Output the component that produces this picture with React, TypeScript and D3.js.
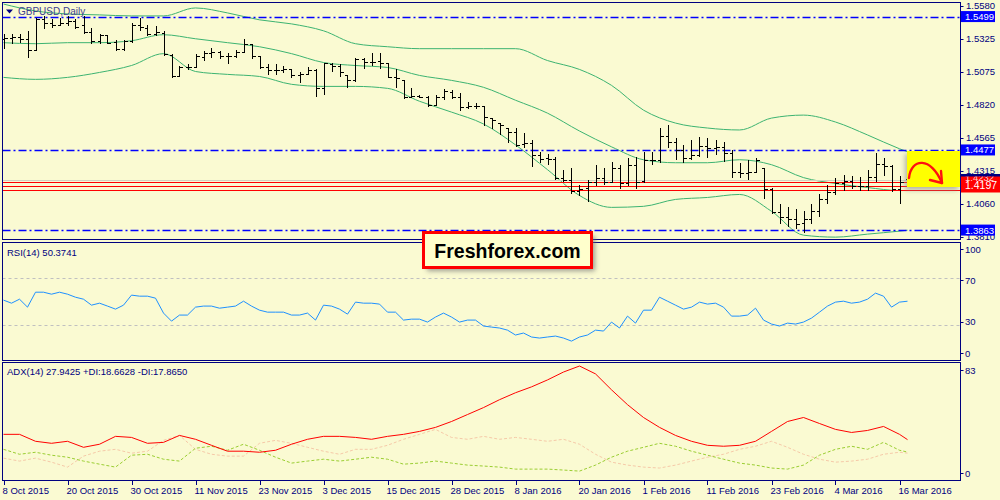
import React, { useEffect } from "react";
import * as d3 from "d3";

// daily GBPUSD bars, 8 Oct 2015 .. 17 Mar 2016
const opens = [
  1.5329, 1.5337, 1.5344, 1.5329, 1.5246, 1.5481, 1.5451, 1.5436, 1.5451, 1.5466,
  1.5436, 1.5382, 1.5314, 1.536, 1.5306, 1.5253, 1.5314, 1.5436, 1.5413, 1.5367,
  1.5375, 1.5208, 1.504, 1.5116, 1.5116, 1.5192, 1.5223, 1.523, 1.52, 1.52,
  1.523, 1.5291, 1.52, 1.5116, 1.5086, 1.5086, 1.5094, 1.5048, 1.5056, 1.5086,
  1.4949, 1.5139, 1.5124, 1.5048, 1.501, 1.5177, 1.5154, 1.5162, 1.5147, 1.5033,
  1.501, 1.4881, 1.4888, 1.4881, 1.482, 1.4881, 1.4919, 1.4881, 1.4805, 1.4812,
  1.4812, 1.4721, 1.4683, 1.4645, 1.4615, 1.4524, 1.4531, 1.444, 1.4417, 1.441,
  1.4265, 1.425, 1.4159, 1.4189, 1.4235, 1.4265, 1.4235, 1.4341, 1.4227, 1.4364,
  1.4242, 1.4402, 1.4402, 1.4584, 1.4539, 1.4478, 1.4417, 1.444, 1.4508, 1.4493,
  1.4501, 1.4455, 1.4311, 1.4303, 1.4311, 1.4341, 1.4174, 1.3999, 1.3961, 1.3946,
  1.3916, 1.3946, 1.4007, 1.4098, 1.4151, 1.4227, 1.4242, 1.4204, 1.4197, 1.4273,
  1.4372, 1.4356, 1.4174, 1.4258,
];
const highs = [
  1.5367, 1.5367, 1.5367, 1.539, 1.5489, 1.5504, 1.5481, 1.5489, 1.5504, 1.5481,
  1.5504, 1.5413, 1.5367, 1.536, 1.5322, 1.5322, 1.5451, 1.5489, 1.5436, 1.5428,
  1.539, 1.5215, 1.5124, 1.5139, 1.5215, 1.5238, 1.5261, 1.5238, 1.5223, 1.5246,
  1.5329, 1.5291, 1.52, 1.5139, 1.5132, 1.5124, 1.5101, 1.5071, 1.5109, 1.5101,
  1.5147, 1.5147, 1.5132, 1.5048, 1.5185, 1.5185, 1.5223, 1.5223, 1.5147, 1.5101,
  1.501, 1.4949, 1.4896, 1.4888, 1.4896, 1.4942, 1.4934, 1.4911, 1.4843, 1.4835,
  1.4812, 1.4721, 1.4683, 1.4645, 1.4645, 1.4607, 1.4554, 1.4463, 1.4448, 1.4425,
  1.4326, 1.4341, 1.4212, 1.425, 1.4364, 1.4341, 1.4387, 1.4364, 1.4417, 1.4425,
  1.4463, 1.4463, 1.4645, 1.4668, 1.4569, 1.4516, 1.4554, 1.4577, 1.4569, 1.4554,
  1.4539, 1.4478, 1.4379, 1.4402, 1.4417, 1.4341, 1.4189, 1.406, 1.4037, 1.4022,
  1.4007, 1.406, 1.4136, 1.4212, 1.4265, 1.4288, 1.428, 1.4273, 1.4326, 1.4455,
  1.4417, 1.4364, 1.428, 1.4273,
];
const lows = [
  1.5253, 1.5291, 1.5299, 1.5185, 1.5238, 1.5405, 1.5413, 1.5428, 1.5428, 1.5405,
  1.5367, 1.5291, 1.5291, 1.5291, 1.5238, 1.5238, 1.5299, 1.539, 1.5352, 1.5352,
  1.52, 1.5025, 1.5033, 1.5086, 1.5109, 1.5162, 1.5185, 1.5177, 1.5139, 1.5185,
  1.5223, 1.5177, 1.5101, 1.5048, 1.5048, 1.5063, 1.5025, 1.4987, 1.5048, 1.4881,
  1.4896, 1.5071, 1.5033, 1.4949, 1.4995, 1.5101, 1.5124, 1.5101, 1.5025, 1.4949,
  1.4866, 1.4881, 1.4873, 1.4805, 1.4812, 1.4858, 1.4866, 1.4774, 1.479, 1.479,
  1.466, 1.4638, 1.4592, 1.4531, 1.4501, 1.4493, 1.4349, 1.4379, 1.4364, 1.425,
  1.4235, 1.4136, 1.4121, 1.4075, 1.4197, 1.4212, 1.422, 1.4174, 1.4204, 1.4174,
  1.4227, 1.4364, 1.4379, 1.4493, 1.4402, 1.4379, 1.4402, 1.4425, 1.4417, 1.444,
  1.4387, 1.4265, 1.4265, 1.425, 1.4311, 1.4098, 1.3984, 1.3908, 1.3885, 1.387,
  1.384, 1.3908, 1.3961, 1.406, 1.4128, 1.4159, 1.4174, 1.4159, 1.4159, 1.4235,
  1.428, 1.4151, 1.406, 1.4242,
];
const closes = [
  1.5337, 1.5344, 1.5329, 1.5246, 1.5481, 1.5451, 1.5436, 1.5451, 1.5466, 1.542,
  1.5382, 1.5314, 1.536, 1.5299, 1.5253, 1.5314, 1.5436, 1.542, 1.5367, 1.5382,
  1.5215, 1.504, 1.5116, 1.5116, 1.52, 1.5223, 1.523, 1.52, 1.52, 1.523,
  1.5291, 1.52, 1.5116, 1.5086, 1.5086, 1.5094, 1.5048, 1.5056, 1.5086, 1.4949,
  1.5147, 1.5124, 1.5078, 1.501, 1.5177, 1.5154, 1.5154, 1.5147, 1.5033, 1.5025,
  1.4881, 1.4888, 1.4881, 1.482, 1.4881, 1.4926, 1.4881, 1.4805, 1.4812, 1.4812,
  1.4729, 1.4706, 1.4668, 1.4615, 1.4516, 1.4531, 1.444, 1.441, 1.441, 1.4265,
  1.425, 1.4159, 1.4174, 1.4235, 1.4265, 1.4235, 1.4341, 1.4227, 1.4364, 1.4235,
  1.4402, 1.4402, 1.4584, 1.4539, 1.4478, 1.4417, 1.444, 1.4508, 1.4493, 1.4501,
  1.4455, 1.4311, 1.4303, 1.4311, 1.4402, 1.4174, 1.3999, 1.3961, 1.3946, 1.3908,
  1.3946, 1.4007, 1.4098, 1.4151, 1.4227, 1.4242, 1.4204, 1.4197, 1.4273, 1.4372,
  1.4356, 1.4174, 1.4235, 1.425,
];

// Bollinger bands, sampled every 4 bars
const bbIdx = [0, 4, 8, 12, 16, 20, 24, 28, 32, 36, 40, 44, 48, 52, 56, 60, 64, 68, 72, 76, 80, 84, 88, 92, 96, 100, 104, 108, 112, 113];
const bbUpper = [
  1.5595, 1.5542, 1.5519, 1.5512, 1.5504, 1.5504, 1.5565, 1.5527, 1.5474, 1.5443,
  1.539, 1.5291, 1.5268, 1.5253, 1.5253, 1.5253, 1.5253, 1.5162, 1.5094, 1.4972,
  1.4782, 1.4683, 1.4645, 1.463, 1.4721, 1.4744, 1.4691, 1.4592, 1.4486, 1.4463,
];
const bbMiddle = [
  1.5299, 1.5291, 1.5299, 1.5299, 1.5314, 1.536, 1.5329, 1.5299, 1.5268, 1.5215,
  1.5147, 1.5124, 1.5109, 1.5048, 1.501, 1.4957, 1.4858, 1.4759, 1.4622, 1.4501,
  1.4402, 1.4379, 1.4379, 1.4402, 1.4364, 1.4265, 1.422, 1.4189, 1.4166, 1.4166,
];
const bbLower = [
  1.5033, 1.5018, 1.5033, 1.5071, 1.5124, 1.5215, 1.5078, 1.5056, 1.504, 1.498,
  1.4964, 1.4964, 1.4949, 1.485, 1.4767, 1.4676, 1.4516, 1.4326, 1.4128, 1.4037,
  1.4045, 1.4098, 1.4113, 1.4136, 1.4007, 1.3824, 1.3809, 1.3832, 1.3855, 1.3862,
];

const rsi = [
  51.3, 48.7, 52.1, 45.3, 58.1, 58.1, 56.4, 58.1, 56.4, 53.8,
  52.1, 47.0, 48.7, 46.2, 43.6, 47.0, 55.6, 54.7, 54.7, 53.0,
  40.2, 33.3, 38.5, 38.5, 45.3, 46.2, 46.2, 44.4, 45.3, 46.2,
  50.4, 46.2, 42.7, 41.0, 41.0, 41.0, 38.5, 38.5, 40.2, 34.2,
  47.0, 46.2, 43.6, 39.3, 49.6, 48.7, 48.7, 47.9, 41.0, 41.0,
  34.2, 35.0, 35.0, 32.5, 36.8, 40.2, 36.8, 32.5, 34.2, 34.2,
  29.1, 28.2, 27.4, 25.6, 21.4, 23.1, 19.7, 18.8, 19.7, 20.5,
  18.8, 16.2, 19.7, 21.4, 25.6, 24.8, 32.5, 27.4, 37.6, 31.6,
  42.7, 42.7, 53.8, 50.4, 47.0, 43.6, 45.3, 49.6, 47.9, 48.7,
  45.3, 37.6, 37.6, 38.5, 44.4, 34.2, 30.8, 29.1, 31.6, 30.8,
  32.5, 35.9, 41.0, 46.2, 49.6, 50.4, 48.7, 49.6, 52.1, 57.3,
  54.7, 45.3, 49.6, 50.37,
];

// ADX / +DI / -DI, sampled every 2 bars
const adxIdx = [
  0, 2, 4, 6, 8, 10, 12, 14, 16, 18, 20, 22, 24, 26, 28, 30, 32, 34, 36, 38,
  40, 42, 44, 46, 48, 50, 52, 54, 56, 58, 60, 62, 64, 66, 68, 70, 72, 74, 76, 78,
  80, 82, 84, 86, 88, 90, 92, 94, 96, 98, 100, 102, 104, 106, 108, 110, 112, 113,
];
const adx = [
  31.9, 31.9, 26.7, 25.2, 26.7, 22.2, 24.5, 30.4, 29.6, 25.2,
  25.9, 31.1, 28.2, 23.7, 19.3, 19.3, 18.5, 20.0, 24.5, 28.2,
  30.4, 30.4, 29.6, 28.2, 30.4, 31.9, 34.1, 37.1, 41.5, 46.7,
  51.9, 57.8, 63.0, 67.4, 72.6, 78.5, 83.0, 77.1, 65.2, 54.1,
  44.5, 37.1, 31.1, 26.7, 23.7, 23.0, 23.7, 26.7, 34.1, 41.5,
  44.5, 40.0, 35.6, 33.3, 34.8, 37.8, 31.9, 27.94,
];
const plusDi = [
  20.7, 17.0, 18.5, 16.3, 14.8, 11.9, 9.6, 7.4, 16.3, 17.0,
  13.3, 11.9, 21.5, 23.0, 20.0, 24.5, 20.0, 14.8, 10.4, 11.9,
  13.3, 11.9, 13.3, 14.8, 13.3, 9.6, 10.4, 11.9, 10.4, 8.9,
  8.2, 7.4, 5.9, 5.9, 5.9, 5.2, 4.4, 8.9, 14.8, 19.3,
  22.2, 25.2, 23.0, 19.3, 16.3, 13.3, 10.4, 8.9, 6.7, 5.9,
  8.9, 16.3, 20.7, 23.0, 20.7, 25.9, 20.0, 18.66,
];
const minusDi = [
  14.1, 11.9, 14.1, 11.1, 7.4, 15.6, 19.3, 20.7, 17.8, 19.3,
  27.4, 31.1, 20.7, 17.0, 15.6, 15.6, 25.2, 27.4, 25.2, 22.2,
  19.3, 17.0, 20.7, 20.7, 23.7, 28.2, 31.9, 35.6, 29.6, 28.2,
  30.4, 28.2, 29.6, 28.2, 26.7, 28.2, 24.5, 17.0, 11.1, 8.9,
  7.4, 6.7, 8.9, 11.9, 14.8, 17.0, 20.7, 23.0, 26.7, 22.2,
  17.0, 13.3, 11.1, 11.9, 13.3, 17.0, 18.5, 17.87,
];

const priceTicks = [1.558, 1.5325, 1.5075, 1.482, 1.4565, 1.4315, 1.406, 1.381];
const levelLines = [1.5499, 1.4477, 1.3863];
const redLines = [1.4232, 1.4197, 1.417];
const bidPrice = 1.425;
const rsiTicks = [100, 70, 30, 0];
const rsiLevels = [70, 30];
const adxTicks = [83, 0];
const dateTickIdx = [0, 8, 16, 24, 32, 40, 48, 56, 64, 72, 80, 88, 96, 104, 112];
const dateLabels = [
  "8 Oct 2015", "20 Oct 2015", "30 Oct 2015", "11 Nov 2015", "23 Nov 2015",
  "3 Dec 2015", "15 Dec 2015", "28 Dec 2015", "8 Jan 2016", "20 Jan 2016",
  "1 Feb 2016", "11 Feb 2016", "23 Feb 2016", "4 Mar 2016", "16 Mar 2016",
];

const BG = "#fafad2";
const NAVY = "#000080";
const FONT = "'Liberation Sans', Arial, sans-serif";

export default function App() {
  useEffect(() => {
    document.body.style.margin = "0";
  }, []);

  const L = 2.5;
  const R = 960.5;
  const main = { top: 2.5, bottom: 239.5 };
  const rsiP = { top: 242.5, bottom: 360.5 };
  const adxP = { top: 362.5, bottom: 480.5 };

  const x = d3.scaleLinear().domain([0, 113]).range([3.5, 907.5]);
  const yP = d3.scaleLinear().domain([1.381, 1.558]).range([237, 6]);
  const yR = d3.scaleLinear().domain([0, 100]).range([360, 243.3]);
  const yA = d3.scaleLinear().domain([0, 83]).range([477, 366]);
  const snap = (v: number) => Math.round(v) + 0.5;

  const band = (vals: number[]) =>
    d3.line<number>()
      .x((_, k) => x(bbIdx[k]))
      .y((v) => yP(v))
      .curve(d3.curveMonotoneX)(vals) || "";

  const rsiPath = d3.line<number>()
    .x((_, i) => x(i))
    .y((v) => yR(v))(rsi) || "";

  const adxLine = (vals: number[]) =>
    d3.line<number>()
      .x((_, k) => x(adxIdx[k]))
      .y((v) => yA(v))(vals) || "";

  const barsPath = opens
    .map((o, i) => {
      const xi = snap(x(i));
      return `M${xi},${yP(highs[i])}V${yP(lows[i])}M${xi - 3},${snap(yP(o))}H${xi}M${xi},${snap(yP(closes[i]))}H${xi + 3}`;
    })
    .join("");

  const clampR = d3.scaleLinear().domain([243, 360]).range([249, 353]).clamp(true);

  return (
    <svg width={1000} height={500} style={{ position: "absolute", left: 0, top: 0, display: "block" }} fontFamily={FONT}>
      <defs>
        <clipPath id="cMain"><rect x={L} y={main.top} width={R - L} height={main.bottom - main.top} /></clipPath>
        <clipPath id="cRsi"><rect x={L} y={rsiP.top} width={R - L} height={rsiP.bottom - rsiP.top} /></clipPath>
        <clipPath id="cAdx"><rect x={L} y={adxP.top} width={R - L} height={adxP.bottom - adxP.top} /></clipPath>
        <clipPath id="cRed"><rect x={961} y={176.5} width={39} height={16} /></clipPath>
        <filter id="blur" x="-20%" y="-20%" width="140%" height="160%">
          <feGaussianBlur stdDeviation="2.5" />
        </filter>
      </defs>
      <rect x={0} y={0} width={1000} height={500} fill={BG} />

      {/* main price panel */}
      <g clipPath="url(#cMain)">
        {[bbUpper, bbMiddle, bbLower].map((b, k) => (
          <path key={k} d={band(b)} fill="none" stroke="#3cb371" strokeWidth={1} />
        ))}
        <line x1={L} x2={R} y1={snap(yP(bidPrice))} y2={snap(yP(bidPrice))} stroke="#d0d0c0" strokeWidth={1} />
        {redLines.map((v) => (
          <line key={v} x1={L} x2={R} y1={snap(yP(v))} y2={snap(yP(v))} stroke="#ff0000" strokeWidth={1} />
        ))}
        {levelLines.map((v) => (
          <line key={v} x1={L} x2={R} y1={snap(yP(v))} y2={snap(yP(v))} stroke="#0000ff" strokeWidth={1.3} strokeDasharray="8,3,2,3" />
        ))}
        <path d={barsPath} stroke="#000" strokeWidth={1} fill="none" shapeRendering="crispEdges" />
      </g>
      <rect x={L} y={main.top} width={R - L} height={main.bottom - main.top} fill="none" stroke={NAVY} strokeWidth={1} />
      <path d="M6,9.5 L13,9.5 L9.5,13.5 Z" fill={NAVY} />
      <text x={18} y={15} fontSize={10} fill="#404090">GBPUSD,Daily</text>

      {/* yellow note with arrow */}
      <rect x={905} y={154} width={53} height={36} fill="#888" opacity={0.6} filter="url(#blur)" />
      <rect x={907} y={151} width={53} height={36} fill="#ffff00" />
      <path d="M909,178 C911,158 931,156 942,183" fill="none" stroke="#ff1010" strokeWidth={2.4} strokeLinecap="round" />
      <path d="M930,180 L942,183 L941,171" fill="none" stroke="#ff1010" strokeWidth={2.4} strokeLinecap="round" strokeLinejoin="round" />

      {/* price axis */}
      {priceTicks.map((v) => (
        <g key={v}>
          <line x1={R} x2={R + 3} y1={snap(yP(v))} y2={snap(yP(v))} stroke={NAVY} />
          <text x={966} y={yP(v) + 3} fontSize={9.5} fill={NAVY}>{v.toFixed(4)}</text>
        </g>
      ))}
      {levelLines.map((v) => (
        <g key={v}>
          <rect x={961} y={yP(v) - 5.5} width={34} height={11} fill="#0000ff" />
          <text x={965} y={yP(v) + 3.5} fontSize={9.5} fill="#fff">{v.toFixed(4)}</text>
        </g>
      ))}
      <rect x={961} y={174} width={39} height={3} fill={NAVY} />
      <rect x={961} y={176.5} width={39} height={16} fill="#ff0000" />
      <g clipPath="url(#cRed)" fontSize={9.5} fill="#ffd0d0">
        <text x={965} y={yP(redLines[0]) - 0.5}>{redLines[0].toFixed(4)}</text>
        <text x={965} y={yP(redLines[2]) + 9}>{redLines[2].toFixed(4)}</text>
        <text x={965} y={yP(redLines[1]) + 2.5} fill="#fff" fontSize={10.5}>{redLines[1].toFixed(4)}</text>
      </g>

      {/* RSI panel */}
      <g clipPath="url(#cRsi)">
        {rsiLevels.map((v) => (
          <line key={v} x1={L} x2={R} y1={snap(yR(v))} y2={snap(yR(v))} stroke="#c0c0c0" strokeDasharray="3,3" />
        ))}
        <path d={rsiPath} fill="none" stroke="#1e90ff" strokeWidth={1} />
      </g>
      <rect x={L} y={rsiP.top} width={R - L} height={rsiP.bottom - rsiP.top} fill="none" stroke={NAVY} />
      <text x={7} y={255.5} fontSize={9.5} fill={NAVY}>RSI(14) 50.3741</text>
      {rsiTicks.map((v) => (
        <g key={v}>
          <line x1={R} x2={R + 3} y1={snap(clampR(yR(v)))} y2={snap(clampR(yR(v)))} stroke={NAVY} />
          <text x={965} y={clampR(yR(v)) + 3.5} fontSize={9.5} fill={NAVY}>{v}</text>
        </g>
      ))}

      {/* ADX panel */}
      <g clipPath="url(#cAdx)">
        <path d={adxLine(minusDi)} fill="none" stroke="#f5c9a8" strokeWidth={1} strokeDasharray="3,2" />
        <path d={adxLine(plusDi)} fill="none" stroke="#9acd32" strokeWidth={1} strokeDasharray="3,2" />
        <path d={adxLine(adx)} fill="none" stroke="#ff0000" strokeWidth={1} />
      </g>
      <rect x={L} y={adxP.top} width={R - L} height={adxP.bottom - adxP.top} fill="none" stroke={NAVY} />
      <text x={7} y={375} fontSize={9.5} fill={NAVY}>ADX(14) 27.9425 +DI:18.6628 -DI:17.8650</text>
      {adxTicks.map((v) => {
        const yy = Math.min(Math.max(yA(v), 370), 473);
        return (
          <g key={v}>
            <line x1={R} x2={R + 3} y1={snap(yy)} y2={snap(yy)} stroke={NAVY} />
            <text x={965} y={yy + 3.5} fontSize={9.5} fill={NAVY}>{v}</text>
          </g>
        );
      })}

      {/* time axis */}
      {dateTickIdx.map((idx, k) => (
        <g key={idx}>
          <line x1={snap(x(idx))} x2={snap(x(idx))} y1={adxP.bottom} y2={485} stroke={NAVY} />
          <text x={x(idx) - 1} y={494} fontSize={9.5} fill={NAVY}>{dateLabels[k]}</text>
        </g>
      ))}

      {/* watermark */}
      <rect x={427} y={236} width={168} height={35} fill="#777" opacity={0.7} filter="url(#blur)" />
      <rect x={423.5} y={232.5} width={168} height={35} fill="#ffffcc" stroke="#ff0000" strokeWidth={3} />
      <text x={507.5} y={258} textAnchor="middle" fontSize={19.5} fontWeight="bold" fill="#000">Freshforex.com</text>
    </svg>
  );
}
